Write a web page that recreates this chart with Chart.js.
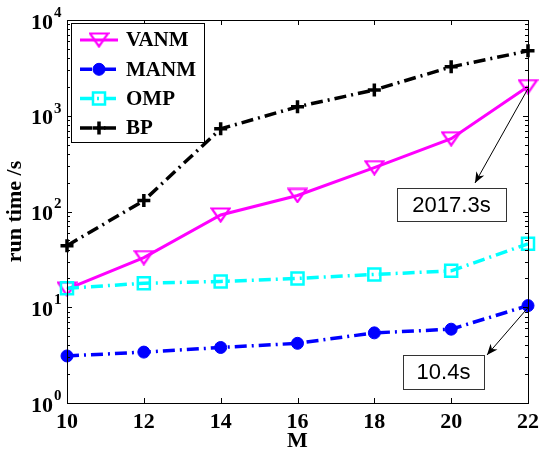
<!DOCTYPE html>
<html>
<head>
<meta charset="utf-8">
<script src="https://cdn.jsdelivr.net/npm/chart.js@4.4.1/dist/chart.umd.min.js"></script>
<style>
  html, body { margin: 0; padding: 0; background: #fff; }
  #wrap { width: 539px; height: 454px; }
</style>
</head>
<body>
<div id="wrap"><canvas id="RunTimeChart"></canvas></div>
<script>
// values
const mValues = [10, 12, 14, 16, 18, 20, 22]
const vanmTimes = [15.5, 33, 92, 147, 287, 575, 2017.3]
const manmTimes = [3.1, 3.4, 3.8, 4.2, 5.4, 5.9, 10.4]
const ompTimes = [15.8, 17.8, 18.6, 20, 22, 24, 46]
const bpTimes = [44, 130, 730, 1240, 1860, 3240, 4760]
const seriesNames = ['VANM', 'MANM', 'OMP', 'BP']
const xTicks = [10, 12, 14, 16, 18, 20, 22]
const yExponents = [0, 1, 2, 3, 4]
const noteTexts = ['2017.3s', '10.4s']

const serif = '"Liberation Serif", "Times New Roman", serif'
const sans = '"Liberation Sans", Arial, sans-serif'
const dashDot = [12, 5, 2, 5]

// open down-triangle like matlab's 'v'
const triMarker = (() => {
    const c = document.createElement('canvas')
    c.width = 21; c.height = 16
    const g = c.getContext('2d')
    g.strokeStyle = '#ff00ff'
    g.lineWidth = 2.2
    g.beginPath()
    g.moveTo(1.5, 1.5); g.lineTo(19.5, 1.5); g.lineTo(10.5, 14.5); g.closePath()
    g.stroke()
    return c
})()

const toPoints = (vals) => vals.map((v, i) => ({x: mValues[i], y: v}))

const datasets = [
    {
        label: seriesNames[0], data: toPoints(vanmTimes),
        borderColor: '#ff00ff', borderWidth: 3, borderDash: [],
        pointStyle: triMarker, pointRadius: 8, order: 4
    },
    {
        label: seriesNames[1], data: toPoints(manmTimes),
        borderColor: '#0000ff', borderWidth: 3.5, borderDash: dashDot,
        pointStyle: 'circle', pointRadius: 6, pointBackgroundColor: '#0000ff',
        pointBorderColor: '#0000ff', pointBorderWidth: 1, order: 3
    },
    {
        label: seriesNames[2], data: toPoints(ompTimes),
        borderColor: '#00ffff', borderWidth: 3.5, borderDash: dashDot,
        pointStyle: 'rect', pointRadius: 8.5, pointBackgroundColor: 'rgba(0,0,0,0)',
        pointBorderColor: '#00ffff', pointBorderWidth: 2.5, order: 2
    },
    {
        label: seriesNames[3], data: toPoints(bpTimes),
        borderColor: '#000000', borderWidth: 3.5, borderDash: dashDot,
        pointStyle: 'cross', pointRadius: 6.5, pointBorderColor: '#000000',
        pointBorderWidth: 3.5, order: 1
    }
]
datasets.forEach(d => { d.fill = false; d.tension = 0; d.clip = false; d.pointHoverRadius = d.pointRadius })

const matlabAxes = {
    id: 'matlabAxes',
    afterDatasetsDraw(chart) {
        const {ctx, chartArea: a} = chart
        const xs = chart.scales.x, ys = chart.scales.y
        ctx.save()
        ctx.setLineDash([])
        ctx.strokeStyle = '#000'
        ctx.lineWidth = 1

        // box
        ctx.strokeRect(a.left + 0.5, a.top + 0.5, a.right - a.left, a.bottom - a.top)

        // x ticks, inward top and bottom
        ctx.beginPath()
        xTicks.forEach(t => {
            const px = Math.round(xs.getPixelForValue(t)) + 0.5
            ctx.moveTo(px, a.bottom); ctx.lineTo(px, a.bottom - 5)
            ctx.moveTo(px, a.top); ctx.lineTo(px, a.top + 5)
        })
        // y ticks (major + minor), left and right
        yExponents.forEach(e => {
            for (let k = 1; k <= 9; k++) {
                const v = k * Math.pow(10, e)
                if (v > 10000) break
                const py = Math.round(ys.getPixelForValue(v)) + 0.5
                const len = k === 1 ? 5 : 3
                ctx.moveTo(a.left, py); ctx.lineTo(a.left + len, py)
                ctx.moveTo(a.right, py); ctx.lineTo(a.right - len, py)
            }
        })
        ctx.stroke()

        // tick labels
        ctx.fillStyle = '#000'
        ctx.font = 'bold 22px ' + serif
        ctx.textAlign = 'center'
        ctx.textBaseline = 'middle'
        xTicks.forEach(t => ctx.fillText(String(t), xs.getPixelForValue(t), a.bottom + 19))
        yExponents.forEach(e => {
            const py = ys.getPixelForValue(Math.pow(10, e))
            ctx.font = 'bold 22px ' + serif
            ctx.textAlign = 'right'
            ctx.fillText('10', a.left - 14, py + 3)
            ctx.font = 'bold 15px ' + serif
            ctx.textAlign = 'left'
            ctx.fillText(String(e), a.left - 13, py - 7)
        })

        // axis titles
        ctx.font = 'bold 22px ' + serif
        ctx.textAlign = 'center'
        ctx.fillText('M', (a.left + a.right) / 2, a.bottom + 38)
        ctx.save()
        ctx.translate(15, (a.top + a.bottom) / 2)
        ctx.rotate(-Math.PI / 2)
        ctx.fillText('run time /s', 0, 0)
        ctx.restore()

        // legend
        const lx = a.left + 4, ly = a.top + 3, lw = 133, lh = 119
        ctx.fillStyle = '#fff'
        ctx.fillRect(lx, ly, lw, lh)
        ctx.strokeRect(lx + 0.5, ly + 0.5, lw, lh)
        chart.data.datasets.forEach((d, i) => {
            const rowY = ly + 17 + i * 29.3
            ctx.save()
            ctx.strokeStyle = d.borderColor
            ctx.lineWidth = d.borderWidth
            ctx.setLineDash(d.borderDash)
            ctx.beginPath()
            ctx.moveTo(lx + 9, rowY); ctx.lineTo(lx + 47, rowY)
            ctx.stroke()
            ctx.setLineDash([])
            ctx.fillStyle = d.pointBackgroundColor || 'rgba(0,0,0,0)'
            ctx.strokeStyle = d.pointBorderColor || d.borderColor
            ctx.lineWidth = d.pointBorderWidth || 1
            Chart.helpers.drawPoint(ctx, {pointStyle: d.pointStyle, radius: d.pointRadius, rotation: 0, borderWidth: d.pointBorderWidth || 1}, lx + 28, rowY)
            ctx.restore()
            ctx.fillStyle = '#000'
            ctx.font = 'bold 21px ' + serif
            ctx.textAlign = 'left'
            ctx.fillText(d.label, lx + 55, rowY + 1)
        })

        // annotations with arrows
        const notes = [
            {text: noteTexts[0], ds: 0, box: [397, 188, 109, 33], tip: [475, 183]},
            {text: noteTexts[1], ds: 1, box: [403, 355, 81, 34], tip: [487, 355]}
        ]
        notes.forEach(n => {
            const pt = chart.getDatasetMeta(n.ds).data[6]
            const [tx, ty] = n.tip
            ctx.strokeStyle = '#000'
            ctx.fillStyle = '#000'
            ctx.lineWidth = 1
            ctx.beginPath()
            ctx.moveTo(pt.x, pt.y + 2); ctx.lineTo(tx, ty)
            ctx.stroke()
            const ang = Math.atan2(ty - pt.y, tx - pt.x)
            const hl = 11, hw = 4.5
            const bx = tx - Math.cos(ang) * hl, by = ty - Math.sin(ang) * hl
            const nx = tx - Math.cos(ang) * hl * 0.7, ny = ty - Math.sin(ang) * hl * 0.7
            ctx.beginPath()
            ctx.moveTo(tx, ty)
            ctx.lineTo(bx - Math.sin(ang) * hw, by + Math.cos(ang) * hw)
            ctx.lineTo(nx, ny)
            ctx.lineTo(bx + Math.sin(ang) * hw, by - Math.cos(ang) * hw)
            ctx.closePath()
            ctx.fill()
            const [bxx, byy, bw, bh] = n.box
            ctx.fillStyle = '#fff'
            ctx.fillRect(bxx, byy, bw, bh)
            ctx.strokeStyle = '#333'
            ctx.strokeRect(bxx + 0.5, byy + 0.5, bw, bh)
            ctx.fillStyle = '#000'
            ctx.font = '22px ' + sans
            ctx.textAlign = 'center'
            ctx.fillText(n.text, bxx + bw / 2, byy + bh / 2 + 1)
        })
        ctx.restore()
    }
}

const ctl = document.getElementById('RunTimeChart')
window.runChart = new Chart(ctl, {
    type: 'line',
    data: {datasets: datasets},
    options: {
        responsive: true,
        maintainAspectRatio: false,
        animation: false,
        layout: {padding: {left: 67, right: 11, top: 20, bottom: 51}},
        plugins: {legend: {display: false}, tooltip: {enabled: false}},
        scales: {
            x: {type: 'linear', min: 10, max: 22, display: false},
            y: {type: 'logarithmic', min: 1, max: 10000, display: false}
        }
    },
    plugins: [matlabAxes]
})
</script>
</body>
</html>
